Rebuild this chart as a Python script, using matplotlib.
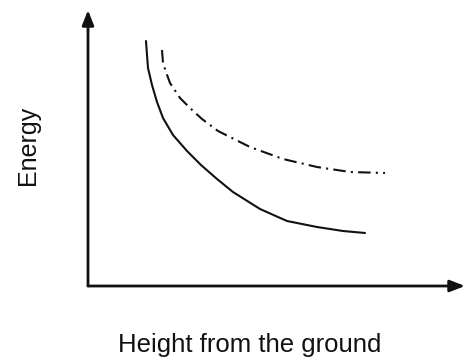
import numpy as np
import matplotlib.pyplot as plt

# values (arbitrary units, origin at the axes corner)
solid_x = [58, 59, 60, 64, 69, 75, 85, 99, 113, 129, 145, 172, 199, 229, 255, 277]
solid_y = [245, 231, 218, 201, 184, 168, 151, 135, 121, 107, 94, 77, 65, 59, 55, 53]

dash_x = [74, 75, 78, 82, 92, 102, 114, 130, 162, 195, 229, 262, 297]
dash_y = [236, 223, 214, 203, 188, 178, 167, 155, 139, 127, 119, 114, 113]

x_label = 'Height from the ground'
y_label = 'Energy'

plt.rcParams['font.family'] = ['Liberation Sans', 'DejaVu Sans']

W, H = 469, 363
fig = plt.figure(figsize=(W / 100, H / 100), dpi=100)
ax = fig.add_axes([88 / W, (H - 286) / H, (465 - 88) / W, (286 - 10) / H])
ax.set_xlim(0, 377)
ax.set_ylim(0, 276)
ax.axis('off')

ink = '#111111'
ax.plot(solid_x, solid_y, color=ink, lw=1.5, solid_capstyle='round',
        solid_joinstyle='round')
ax.plot(dash_x, dash_y, color=ink, lw=1.5, linestyle=(0, (6, 2.5, 1, 2.5)))

# axes with arrow heads
arrow = dict(arrowstyle='-|>,head_length=0.9,head_width=0.35', color=ink,
             lw=2, shrinkA=0, shrinkB=0)
ax.annotate('', xy=(0, 1), xytext=(0, 0), xycoords='axes fraction',
            arrowprops=arrow)
ax.annotate('', xy=(1, 0), xytext=(0, 0), xycoords='axes fraction',
            arrowprops=arrow)

fig.text(250 / W, 1 - 345 / H, x_label, ha='center', va='center',
         fontsize=18.5, color=ink)
fig.text(28 / W, 1 - 145 / H, y_label, ha='center', va='center',
         rotation=90, fontsize=18, color=ink)

fig.savefig('out.png', dpi=100)
